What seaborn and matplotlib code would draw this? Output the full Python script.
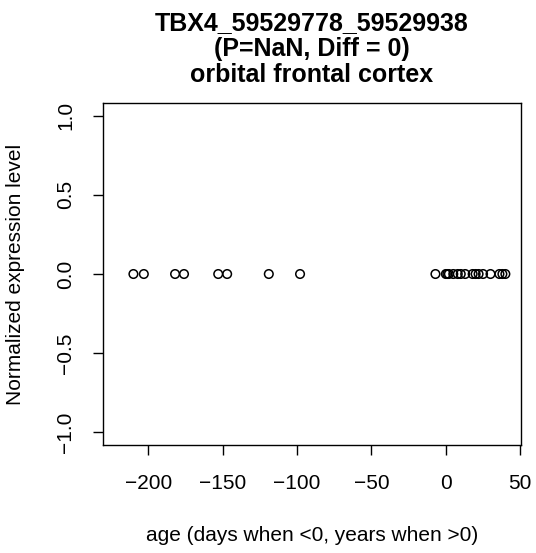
import matplotlib
matplotlib.use("Agg")
import matplotlib.pyplot as plt
import seaborn as sns
import pandas as pd

# --- Data ---
ages = [-210, -203, -182, -176, -153, -147, -119, -98,
        -7, 0, 1, 2, 5, 8, 10, 13, 18, 20, 22, 25, 30, 36, 38, 40]
expression = [0.0] * len(ages)

title_lines = ["TBX4_59529778_59529938", "(P=NaN, Diff = 0)", "orbital frontal cortex"]
x_ticks = [-200, -150, -100, -50, 0, 50]
x_tick_labels = ["\u2212200", "\u2212150", "\u2212100", "\u221250", "0", "50"]
y_ticks = [-1.0, -0.5, 0.0, 0.5, 1.0]
y_tick_labels = ["\u22121.0", "\u22120.5", "0.0", "0.5", "1.0"]

df = pd.DataFrame({"age": ages, "expr": expression})

# --- Styling ---
sns.set_style("ticks")
plt.rcParams['font.family'] = ['Liberation Sans', 'DejaVu Sans']
plt.rcParams['text.color'] = 'black'
plt.rcParams['axes.labelcolor'] = 'black'
plt.rcParams['xtick.color'] = 'black'
plt.rcParams['ytick.color'] = 'black'

fig = plt.figure(figsize=(5.36, 5.53), dpi=100)
ax = fig.add_axes([0.192, 0.195, 0.780, 0.619])

sns.scatterplot(data=df, x="age", y="expr", ax=ax, s=38,
                facecolor="none", edgecolor="black", linewidth=1.1, marker="o")

ax.set_xlim(-230.5, 50.5)
ax.set_ylim(-1.08, 1.08)
ax.set_xticks(x_ticks)
ax.set_xticklabels(x_tick_labels)
ax.set_yticks(y_ticks)
ax.set_yticklabels(y_tick_labels, rotation=90, va="center")

for sp in ax.spines.values():
    sp.set_visible(True)
    sp.set_linewidth(1.0)
    sp.set_color("black")

ax.tick_params(axis="both", direction="out", length=7, width=1.0,
               labelsize=15, colors="black")
ax.tick_params(axis="x", pad=14)
ax.tick_params(axis="y", pad=13)

ax.set_xlabel("age (days when <0, years when >0)", fontsize=15)
ax.set_ylabel("Normalized expression level", fontsize=15)
ax.xaxis.set_label_coords(0.5, -0.235)
ax.yaxis.set_label_coords(-0.187, 0.5)
ax.set_title("\n".join(title_lines), fontsize=18, fontweight="bold",
             linespacing=1.1, pad=15)

fig.savefig("out.png", dpi=100)
